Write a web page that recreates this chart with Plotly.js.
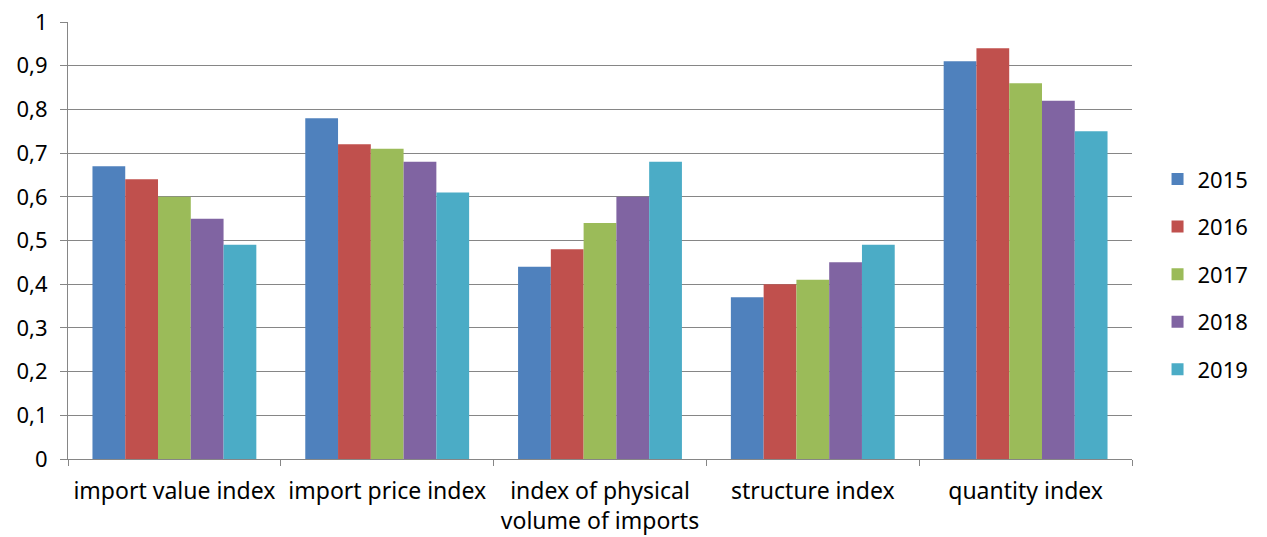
<!DOCTYPE html>
<html>
<head>
<meta charset="utf-8">
<script src="https://cdn.plot.ly/plotly-3.0.1.min.js"></script>
<style>html,body{margin:0;padding:0;background:#fff;}#chart{width:1267px;height:537px;}</style>
</head>
<body>
<div id="chart"></div>
<script>
const categories = ["import value index", "import price index", "index of physical<br>volume of imports", "structure index", "quantity index"];
const years = ["2015", "2016", "2017", "2018", "2019"];
const v2015 = [0.67, 0.78, 0.44, 0.37, 0.91];
const v2016 = [0.64, 0.72, 0.48, 0.40, 0.94];
const v2017 = [0.60, 0.71, 0.54, 0.41, 0.86];
const v2018 = [0.55, 0.68, 0.60, 0.45, 0.82];
const v2019 = [0.49, 0.61, 0.68, 0.49, 0.75];
const yTickVals = [0, 0.1, 0.2, 0.3, 0.4, 0.5, 0.6, 0.7, 0.8, 0.9, 1];
const yTickText = ["0", "0,1", "0,2", "0,3", "0,4", "0,5", "0,6", "0,7", "0,8", "0,9", "1"];

const series = [v2015, v2016, v2017, v2018, v2019];
const colors = ["#4F81BD", "#C0504D", "#9BBB59", "#8064A2", "#4BACC6"];

const traces = series.map((vals, i) => ({
  type: "bar",
  name: years[i],
  x: categories,
  y: vals,
  legendgroup: "g" + i,
  marker: {color: colors[i], line: {width: 0}},
  hoverinfo: "y+name"
}));

const font = {family: "Noto Sans, Open Sans, Liberation Sans, sans-serif", size: 22, color: "#000"};
const xfont = {family: font.family, size: 23, color: "#000"};

const layout = {
  width: 1267, height: 537,
  margin: {l: 68, r: 135, t: 22, b: 78, pad: 0},
  paper_bgcolor: "#fff", plot_bgcolor: "#fff",
  separators: ", ",
  font: font,
  barmode: "group",
  bargap: 0.23,
  bargroupgap: 0,
  showlegend: true,
  legend: {
    x: 1.024, xanchor: "left", y: 0.423, yanchor: "middle",
    font: {family: font.family, size: 22, color: "#000"},
    tracegroupgap: 16,
    itemwidth: 30,
    bgcolor: "rgba(0,0,0,0)"
  },
  xaxis: {
    type: "category",
    tickson: "boundaries",
    ticks: "outside", ticklen: 6, tickcolor: "#868686", tickwidth: 1,
    showline: true, linecolor: "#868686", linewidth: 1,
    showgrid: false,
    tickfont: xfont,
    ticklabelstandoff: 11,
    automargin: false
  },
  yaxis: {
    range: [0, 1],
    tickvals: yTickVals, ticktext: yTickText,
    ticks: "outside", ticklen: 7, tickcolor: "#868686", tickwidth: 1,
    showline: true, linecolor: "#868686", linewidth: 1,
    showgrid: true, gridcolor: "#868686", gridwidth: 1,
    zeroline: false,
    tickfont: font,
    ticklabelstandoff: 8,
    automargin: false
  }
};

Plotly.newPlot("chart", traces, layout, {displayModeBar: false, staticPlot: true});
</script>
</body>
</html>
